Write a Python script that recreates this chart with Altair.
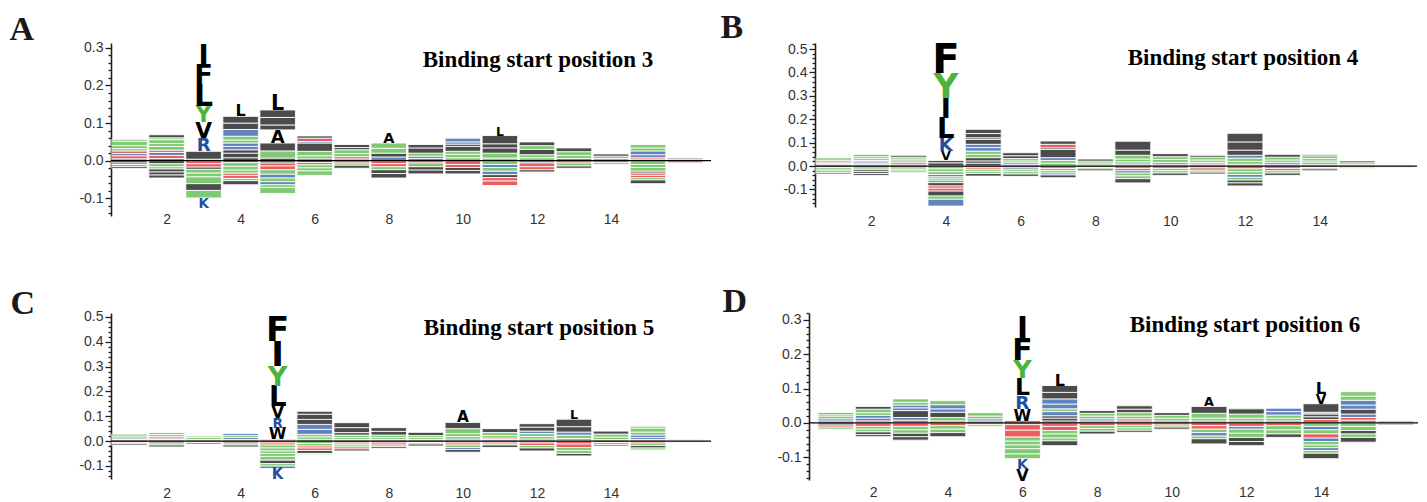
import altair as alt
import pandas as pd
import numpy as np

# ---------------- data: stacked letter heights (bottom-up above 0, top-down below 0) -------------
A_POS = [
    [("K", .005), ("E", .008), ("R", .006), ("D", .007), ("N", .006), ("S", .008), ("G", .012), ("T", .005)],
    [("H", .006), ("E", .008), ("R", .008), ("D", .006), ("N", .010), ("S", .008), ("G", .010), ("Q", .005), ("M", .008)],
    [("D", .004), ("W", .021), ("R", .035), ("V", .042), ("Y", .043), ("L", .058), ("F", .053), ("I", .053)],
    [("M", .008), ("W", .012), ("P", .009), ("R", .009), ("H", .009), ("T", .008), ("S", .010), ("K", .018), ("I", .017), ("V", .018), ("L", .031)],
    [("W", .007), ("S", .019), ("F", .021), ("A", .035), ("M", .013), ("I", .020), ("V", .020), ("L", .040)],
    [("P", .005), ("S", .008), ("G", .012), ("V", .022), ("H", .004), ("E", .009), ("L", .006)],
    [("K", .005), ("E", .006), ("S", .008), ("G", .010), ("L", .006), ("V", .008)],
    [("K", .010), ("M", .010), ("S", .013), ("G", .014), ("A", .028)],
    [("R", .006), ("H", .006), ("S", .008), ("V", .014), ("I", .009)],
    [("N", .008), ("S", .009), ("G", .008), ("A", .013), ("V", .006), ("R", .006), ("K", .010)],
    [("T", .007), ("G", .013), ("V", .014), ("I", .011), ("A", .022), ("L", .024)],
    [("S", .008), ("G", .008), ("V", .014), ("T", .010), ("L", .010)],
    [("R", .006), ("N", .008), ("G", .010), ("V", .010)],
    [("G", .006), ("S", .006), ("A", .006)],
    [("P", .004), ("E", .004), ("R", .008), ("K", .010), ("S", .008), ("G", .009)],
    [("G", .004), ("L", .003)],
]
A_NEG = [
    [("A", .006), ("W", .004), ("C", .006), ("P", .005)],
    [("A", .008), ("G", .008), ("S", .006), ("P", .008), ("V", .008), ("L", .008)],
    [("E", .008), ("D", .009), ("P", .006), ("N", .010), ("S", .010), ("T", .018), ("A", .018), ("G", .020), ("K", .026)],
    [("F", .005), ("G", .010), ("S", .010), ("N", .008), ("E", .006), ("D", .008), ("C", .006), ("A", .011)],
    [("P", .006), ("E", .008), ("D", .010), ("G", .012), ("R", .010), ("S", .010), ("H", .008), ("Q", .007), ("T", .016)],
    [("A", .005), ("D", .006), ("N", .008), ("T", .008), ("C", .012)],
    [("D", .006), ("T", .006), ("A", .008)],
    [("E", .008), ("D", .008), ("N", .008), ("P", .010), ("V", .012)],
    [("E", .006), ("G", .010), ("A", .009), ("L", .010)],
    [("E", .010), ("D", .008), ("P", .008), ("W", .009)],
    [("S", .010), ("R", .008), ("N", .010), ("H", .009), ("P", .008), ("E", .009), ("D", .012)],
    [("K", .006), ("D", .010), ("E", .008), ("A", .006)],
    [("E", .006), ("S", .008), ("L", .006)],
    [("D", .005), ("T", .005)],
    [("G", .010), ("N", .008), ("T", .010), ("L", .005), ("E", .006), ("D", .006), ("Q", .006), ("A", .010)],
    [("A", .004), ("E", .003)],
]

B_POS = [
    [("E", .006), ("R", .005), ("D", .006), ("S", .008), ("G", .010)],
    [("E", .006), ("H", .006), ("R", .006), ("D", .006), ("N", .008), ("S", .008), ("G", .010)],
    [("E", .008), ("D", .008), ("K", .006), ("S", .008), ("G", .008), ("V", .008)],
    [("W", .014), ("M", .010), ("V", .040), ("K", .057), ("L", .086), ("I", .085), ("Y", .107), ("F", .125)],
    [("W", .012), ("A", .010), ("P", .014), ("S", .014), ("G", .014), ("R", .015), ("K", .014), ("L", .021), ("M", .007), ("I", .018), ("V", .018)],
    [("E", .006), ("R", .008), ("S", .008), ("G", .010), ("V", .012), ("A", .013)],
    [("S", .012), ("G", .012), ("H", .012), ("V", .035), ("A", .007), ("E", .015), ("L", .014)],
    [("E", .005), ("S", .008), ("G", .008), ("A", .009)],
    [("R", .008), ("N", .010), ("S", .012), ("G", .016), ("V", .022), ("A", .038)],
    [("E", .008), ("K", .008), ("S", .012), ("G", .012), ("A", .013)],
    [("R", .008), ("N", .008), ("S", .010), ("G", .012), ("V", .008)],
    [("E", .008), ("S", .012), ("G", .014), ("R", .012), ("V", .022), ("A", .035), ("L", .037)],
    [("R", .008), ("H", .008), ("S", .010), ("G", .012), ("V", .012)],
    [("K", .006), ("R", .008), ("N", .008), ("S", .010), ("G", .012), ("L", .006)],
    [("S", .006), ("G", .008), ("A", .008)],
    [("R", .003), ("G", .003)],
]
B_NEG = [
    [("A", .006), ("N", .008), ("L", .006), ("T", .008), ("P", .006)],
    [("A", .008), ("T", .008), ("L", .008), ("V", .008), ("P", .008)],
    [("A", .008), ("T", .008), ("N", .006), ("L", .006)],
    [("G", .012), ("S", .012), ("T", .012), ("H", .010), ("N", .009), ("Q", .009), ("M", .007), ("A", .014), ("E", .010), ("D", .012), ("P", .021), ("C", .014), ("R", .029)],
    [("E", .008), ("D", .008), ("N", .008), ("T", .008), ("F", .011)],
    [("D", .008), ("K", .008), ("N", .008), ("T", .010), ("L", .010)],
    [("D", .010), ("N", .010), ("T", .010), ("K", .008), ("P", .012)],
    [("D", .006), ("T", .006), ("L", .008)],
    [("E", .010), ("D", .010), ("H", .010), ("T", .012), ("Q", .012), ("L", .018)],
    [("D", .010), ("N", .010), ("T", .010), ("V", .010)],
    [("E", .008), ("D", .010), ("T", .008), ("L", .008)],
    [("D", .012), ("N", .012), ("T", .012), ("K", .012), ("Q", .012), ("P", .012), ("I", .013)],
    [("E", .010), ("D", .010), ("T", .010), ("L", .010)],
    [("D", .006), ("T", .006), ("A", .008)],
    [("E", .005), ("T", .005)],
    [("E", .003), ("A", .003)],
]

C_POS = [
    [("E", .006), ("R", .006), ("S", .008), ("G", .008)],
    [("K", .006), ("E", .006), ("D", .006), ("S", .008), ("G", .008)],
    [("E", .006), ("S", .008), ("G", .006)],
    [("E", .006), ("R", .008), ("S", .008), ("K", .008)],
    [("D", .007), ("W", .047), ("R", .040), ("V", .047), ("L", .081), ("Y", .080), ("I", .100), ("F", .100)],
    [("P", .007), ("S", .010), ("G", .010), ("H", .020), ("R", .020), ("I", .020), ("V", .021), ("L", .012)],
    [("K", .006), ("S", .008), ("G", .010), ("V", .010), ("A", .020), ("L", .020)],
    [("R", .006), ("S", .008), ("G", .010), ("A", .015), ("L", .015)],
    [("E", .006), ("S", .008), ("G", .008), ("V", .013)],
    [("R", .008), ("N", .010), ("S", .012), ("G", .020), ("V", .025), ("A", .045)],
    [("K", .006), ("E", .006), ("S", .010), ("G", .012), ("V", .016)],
    [("R", .008), ("S", .010), ("G", .012), ("H", .010), ("V", .016), ("L", .014)],
    [("S", .010), ("G", .014), ("R", .012), ("A", .022), ("V", .030), ("L", .037)],
    [("E", .006), ("S", .010), ("G", .012), ("V", .012)],
    [("E", .006), ("R", .008), ("K", .010), ("S", .012), ("G", .016), ("N", .008)],
    [("G", .003), ("L", .003)],
]
C_NEG = [
    [("A", .006), ("T", .006), ("L", .006)],
    [("A", .008), ("N", .008), ("V", .008)],
    [("T", .006), ("L", .006)],
    [("A", .008), ("G", .008), ("L", .008)],
    [("E", .008), ("D", .008), ("S", .012), ("G", .012), ("Q", .010), ("N", .012), ("T", .015), ("A", .014), ("C", .010), ("H", .010), ("K", .044)],
    [("N", .010), ("T", .010), ("E", .008), ("D", .010), ("A", .012), ("Q", .005)],
    [("E", .008), ("T", .008), ("N", .008), ("D", .008), ("P", .008)],
    [("E", .008), ("D", .008), ("T", .007), ("V", .007)],
    [("D", .006), ("T", .006), ("A", .008)],
    [("E", .008), ("D", .008), ("T", .010), ("K", .008), ("L", .011)],
    [("D", .008), ("T", .008), ("A", .010)],
    [("E", .008), ("D", .010), ("N", .010), ("A", .012)],
    [("E", .012), ("D", .014), ("T", .012), ("N", .012), ("P", .010)],
    [("D", .006), ("T", .008), ("L", .006)],
    [("D", .008), ("T", .010), ("A", .010), ("Q", .008)],
    [("E", .003), ("A", .003)],
]

D_POS = [
    [("E", .006), ("R", .006), ("S", .008), ("G", .006), ("L", .004)],
    [("E", .006), ("K", .008), ("R", .008), ("S", .008), ("G", .010), ("A", .008)],
    [("E", .008), ("R", .008), ("V", .020), ("H", .008), ("K", .008), ("S", .008), ("G", .010)],
    [("E", .006), ("S", .010), ("V", .015), ("R", .010), ("K", .012), ("G", .012)],
    [("E", .006), ("R", .006), ("S", .008), ("G", .010)],
    [("E", .007), ("W", .034), ("R", .039), ("L", .050), ("Y", .054), ("F", .063), ("I", .063)],
    [("M", .006), ("W", .008), ("P", .007), ("H", .012), ("S", .008), ("R", .014), ("K", .015), ("I", .019), ("V", .020), ("L", .034)],
    [("E", .006), ("R", .006), ("S", .008), ("G", .008), ("A", .008)],
    [("K", .006), ("E", .006), ("S", .008), ("G", .010), ("V", .010), ("L", .010)],
    [("E", .006), ("S", .008), ("G", .008), ("V", .008)],
    [("R", .006), ("S", .008), ("G", .014), ("V", .020), ("A", .027)],
    [("E", .006), ("S", .008), ("G", .012), ("A", .015)],
    [("E", .006), ("S", .008), ("G", .009), ("K", .010), ("R", .010)],
    [("E", .010), ("M", .008), ("W", .008), ("S", .005), ("I", .025), ("V", .029), ("L", .035)],
    [("E", .008), ("D", .008), ("R", .010), ("A", .014), ("H", .012), ("K", .014), ("S", .012), ("G", .013)],
    [("G", .003), ("L", .003)],
]
D_NEG = [
    [("A", .006), ("D", .006), ("T", .006)],
    [("D", .010), ("T", .008), ("N", .008), ("L", .008), ("P", .006)],
    [("D", .010), ("N", .010), ("T", .010), ("A", .010), ("L", .010)],
    [("D", .008), ("T", .010), ("N", .010), ("A", .012)],
    [("D", .005), ("T", .005)],
    [("M", .005), ("E", .016), ("D", .020), ("S", .012), ("T", .011), ("N", .011), ("G", .015), ("Q", .014), ("K", .030), ("V", .034)],
    [("E", .010), ("D", .012), ("T", .010), ("G", .012), ("N", .008), ("A", .014)],
    [("D", .008), ("T", .008), ("N", .008), ("L", .008)],
    [("D", .007), ("T", .007), ("N", .007), ("A", .006)],
    [("D", .006), ("T", .006), ("L", .006)],
    [("E", .008), ("D", .010), ("T", .010), ("K", .010), ("Q", .008), ("L", .015)],
    [("D", .010), ("R", .008), ("T", .012), ("N", .012), ("L", .012), ("V", .012)],
    [("D", .008), ("T", .012), ("N", .012), ("A", .010)],
    [("N", .010), ("R", .010), ("G", .012), ("D", .012), ("K", .010), ("Q", .010), ("T", .008), ("H", .008), ("C", .008), ("A", .016)],
    [("N", .010), ("T", .012), ("L", .010), ("Q", .010), ("V", .014)],
    [("E", .003), ("A", .003)],
]

TITLES = ["Binding start position 3", "Binding start position 4",
          "Binding start position 5", "Binding start position 6"]
PANEL_LETTERS = ["A", "B", "C", "D"]
X_TICKS = [2, 4, 6, 8, 10, 12, 14]

# ---------------- styling ----------------
COLOR_OF = {}
for aa in "AVLIPFWM":
    COLOR_OF[aa] = "#000000"
for aa in "GSTYCQN":
    COLOR_OF[aa] = "#4bb43a"
for aa in "KRH":
    COLOR_OF[aa] = "#1f4fa3"
for aa in "DE":
    COLOR_OF[aa] = "#e31a1c"

AXIS_COLOR = "#231f20"
LABEL_COLOR = "#333333"
LETTER_FONT = "DejaVu Sans"
CAP = 0.729  # cap height of DejaVu Sans Bold relative to font size


def build(pos_stacks, neg_stacks, ppu):
    rows = []
    for i, (ps, ns) in enumerate(zip(pos_stacks, neg_stacks)):
        p = i + 1
        y = 0.0
        for letter, h in ps:
            rows.append(dict(pos=p, letter=letter, y0=y, y1=y + h))
            y += h
        y = 0.0
        for letter, h in ns:
            rows.append(dict(pos=p, letter=letter, y0=y - h, y1=y))
            y -= h
    df = pd.DataFrame(rows)
    df["x0"] = df["pos"] - 0.48
    df["x1"] = df["pos"] + 0.48
    df["col"] = df["letter"].map(COLOR_OF)
    df["px"] = (df["y1"] - df["y0"]) * ppu
    df["fs"] = df["px"] / CAP
    return df


def panel(pos_stacks, neg_stacks, xdom, ydom, w, h, title, letter,
          title_xy, letter_xy, xlab_pad):
    ppu = h / (ydom[1] - ydom[0])
    df = build(pos_stacks, neg_stacks, ppu)
    big = df[df["px"] >= 9].copy()
    small = df[df["px"] < 9].copy()

    lo = np.ceil(ydom[0] / 0.02 - 1e-9) * 0.02
    hi = np.floor(ydom[1] / 0.02 + 1e-9) * 0.02
    yvals = [round(v, 2) for v in np.arange(lo, hi + 1e-9, 0.02)]
    is_major = "abs(datum.value*10 - round(datum.value*10)) < 0.001"
    yaxis = alt.Axis(
        values=yvals, grid=False, orient="left",
        domainColor=AXIS_COLOR, domainWidth=1.6,
        tickColor=AXIS_COLOR, tickWidth=1.3,
        tickSize={"condition": {"test": is_major, "value": 6}, "value": 3},
        labelExpr=f"{is_major} ? replace(format(datum.value, '.1f'), '\u2212', '-') : ''",
        labelFont="Liberation Sans", labelFontSize=14, labelColor=LABEL_COLOR,
        labelOverlap=False, labelBound=False, labelPadding=2,
        title=letter, titleAngle=0, titleAlign="left", titleBaseline="alphabetic",
        titleX=letter_xy[0], titleY=letter_xy[1],
        titleFont="Liberation Serif", titleFontSize=34, titleFontWeight="bold",
        titleColor="#1a1a1a",
    )
    xaxis = alt.Axis(
        values=X_TICKS, grid=False, ticks=False, domain=False,
        labelFont="Liberation Sans", labelFontSize=14, labelColor=LABEL_COLOR,
        labelPadding=xlab_pad, title=None, labelFlush=False,
    )
    xs = alt.Scale(domain=list(xdom), nice=False, zero=False)
    ys = alt.Scale(domain=list(ydom), nice=False, zero=False)

    rects = alt.Chart(small).mark_rect(opacity=0.7, stroke="white", strokeWidth=0.9).encode(
        x=alt.X("x0:Q", scale=xs, axis=xaxis),
        x2="x1:Q",
        y=alt.Y("y0:Q", scale=ys, axis=yaxis),
        y2="y1:Q",
        color=alt.Color("col:N", scale=None),
    )
    zero = alt.Chart(pd.DataFrame({"a": [xdom[0]], "b": [xdom[1]], "z": [0.0]})).mark_rule(
        color="#000000", strokeWidth=1.2
    ).encode(
        x=alt.X("a:Q", scale=xs, axis=xaxis),
        x2="b:Q",
        y=alt.Y("z:Q", scale=ys, axis=yaxis),
    )
    letters = alt.Chart(big).mark_text(
        font=LETTER_FONT, fontWeight="bold", baseline="alphabetic", align="center"
    ).encode(
        x=alt.X("pos:Q", scale=xs, axis=xaxis),
        y=alt.Y("y0:Q", scale=ys, axis=yaxis),
        text="letter:N",
        size=alt.Size("fs:Q", scale=None),
        color=alt.Color("col:N", scale=None),
    )
    ttl = alt.Chart(pd.DataFrame({"t": [title]})).mark_text(
        font="Liberation Serif", fontWeight="bold", fontSize=23, color="#000000",
        align="center", baseline="middle"
    ).encode(
        x=alt.value(title_xy[0]), y=alt.value(title_xy[1]), text="t:N"
    )
    return alt.layer(rects, zero, letters, ttl).properties(width=w, height=h)


pa = panel(A_POS, A_NEG, (0.5, 16.7), (-0.147, 0.313), 600, 173, TITLES[0], PANEL_LETTERS[0],
           (427, 17), (-102, -4), -4)
pb = panel(B_POS, B_NEG, (0.5, 16.6), (-0.175, 0.526), 602, 164, TITLES[1], PANEL_LETTERS[1],
           (428, 15), (-95, -6), 7)
pc = panel(C_POS, C_NEG, (0.5, 16.7), (-0.153, 0.516), 600, 166, TITLES[2], PANEL_LETTERS[2],
           (428, 15), (-101, 0), 7)
pd_ = panel(D_POS, D_NEG, (0.28, 16.6), (-0.166, 0.32), 609, 167, TITLES[3], PANEL_LETTERS[3],
            (436, 12), (-87, -2), 5)

row1 = alt.hconcat(pa, pb, spacing=8)
row2 = alt.hconcat(pc, pd_, spacing=10)
chart = alt.vconcat(row1, row2, spacing=56).properties(
    padding={"left": 1, "top": 2, "right": 0, "bottom": 0}
).configure(background="white").configure_view(stroke=None)

chart.save("out.html", embed_options={"renderer": "svg", "actions": False})
